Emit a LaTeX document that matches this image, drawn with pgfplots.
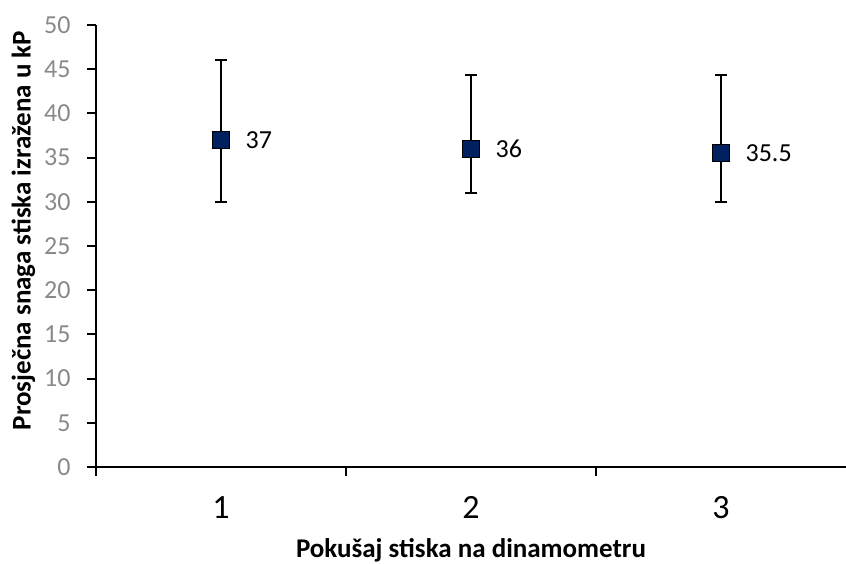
\documentclass[border=0pt]{standalone}
\usepackage{fontspec}
\setmainfont{Carlito}
\usepackage{pgfplots}
\pgfplotsset{compat=1.18}
\definecolor{navy}{RGB}{0,32,96}
\definecolor{tickgray}{RGB}{137,137,137}
\begin{document}
\begin{tikzpicture}
\begin{axis}[name=ax, scale only axis, width=375pt, height=221pt,
  xmin=0.5, xmax=3.5, ymin=0, ymax=50,
  axis x line*=bottom, axis y line*=left,
  axis line style={line width=1pt, black},
  xtick={0.5,1.5,2.5}, xticklabels={},
  extra x ticks={1,2,3}, extra x tick labels={1,2,3},
  extra x tick style={major tick length=0pt, tick style={draw=none}},
  ytick={0,5,...,50},
  tick align=outside,
  major tick length=4.3pt,
  tick style={line width=1pt, black},
  /pgf/number format/assume math mode=true,
  xticklabel style={anchor=base, inner sep=0pt, yshift=-25.7pt, font=\fontsize{17}{20}\selectfont},
  yticklabel style={anchor=east, inner sep=0pt, xshift=-8.2pt, text=tickgray, font=\fontsize{13}{15}\selectfont},
  xlabel={Pokušaj stiska na dinamometru},
  xlabel style={at={(axis description cs:0.5,0)}, anchor=base, yshift=-45pt, font=\bfseries\fontsize{13.5}{16}\selectfont},
  ylabel={Prosječna snaga stiska izražena u kP},
  ylabel style={at={(axis description cs:-0.0872,0.535)}, anchor=base, font=\bfseries\fontsize{13.5}{16}\selectfont},
  clip=false,
]
\addplot[only marks, mark=square*, mark size=4.25pt,
  mark options={fill=navy, draw=black, line width=0.6pt},
  nodes near coords,
  nodes near coords style={anchor=west, inner sep=0pt, xshift=12pt, text=black, font=\fontsize{13}{15}\selectfont},
  error bars/.cd, y dir=both, y explicit,
  error bar style={line width=1pt, black},
  error mark options={rotate=90, mark size=3pt, line width=1pt, black}]
coordinates {
(1,37) += (0,9) -= (0,7)
(2,36) += (0,8.3) -= (0,5)
(3,35.5) += (0,8.8) -= (0,5.5)
};
\end{axis}
\pgfresetboundingbox
\path ([shift={(-48pt,-48pt)}]ax.south west) rectangle ([shift={(375pt,233.5pt)}]ax.south west);
\end{tikzpicture}
\end{document}
